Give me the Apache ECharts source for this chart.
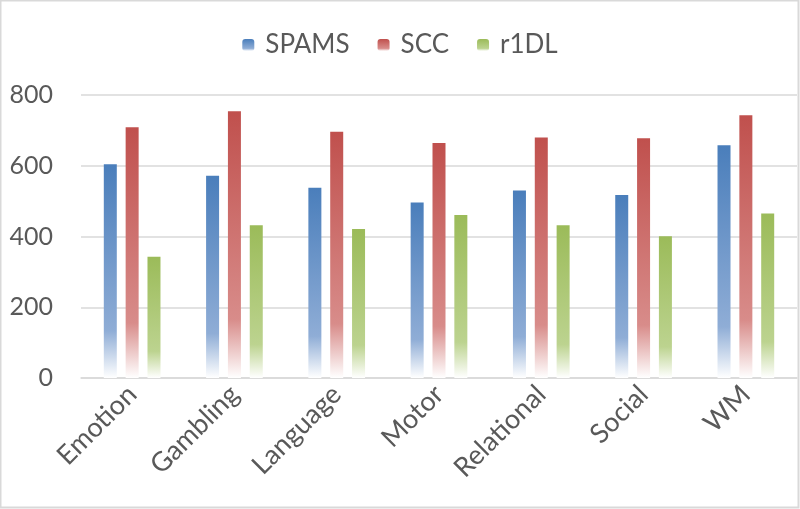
<!DOCTYPE html>
<html>
<head>
<meta charset="utf-8">
<script src="https://cdn.jsdelivr.net/npm/echarts@6/dist/echarts.min.js"></script>
<style>
html,body{margin:0;padding:0;background:#fff;}
#main{width:800px;height:509px;}
</style>
</head>
<body>
<div id="main"></div>
<script>
var categories = ['Emotion','Gambling','Language','Motor','Relational','Social','WM'];
var spams = [604, 572, 538, 496, 530, 517, 658];
var scc = [709, 754, 696, 664, 680, 678, 743];
var r1dl = [343, 432, 421, 461, 432, 401, 465];
var yTicks = [0, 200, 400, 600, 800];

function fade(top, mid, low){
	return new echarts.graphic.LinearGradient(0, 0, 0, 1, [
		{offset: 0, color: top},
		{offset: 0.78, color: mid},
		{offset: 1, color: low}
	]);
}

window.onload=function(){
	var myChart=echarts.init(document.getElementById('main'));
	var txt = '#595959';
	var option = {
		textStyle: {fontFamily: 'Lato'},
		animation: false,
		legend: {
			top: 27,
			left: 'center',
			itemWidth: 12,
			itemHeight: 12,
			itemGap: 28,
			textStyle: {fontSize: 26, color: txt, fontFamily: 'Lato', padding: [0, 0, 0, 6]},
			data: ['SPAMS','SCC','r1DL']
		},
		grid: {left: 81, right: 3, top: 95, bottom: 131},
		xAxis: {
			type: 'category',
			data: categories,
			axisTick: {show: false},
			axisLine: {lineStyle: {color: '#d9d9d9', width: 1.5}},
			axisLabel: {rotate: 45, fontSize: 27, color: txt, margin: 12, interval: 0}
		},
		yAxis: {
			type: 'value',
			min: yTicks[0],
			max: yTicks[yTicks.length - 1],
			interval: 200,
			axisLine: {show: false},
			axisTick: {show: false},
			axisLabel: {fontSize: 25, color: txt, margin: 28},
			splitLine: {lineStyle: {color: '#d9d9d9', width: 1.5}}
		},
		series: [
			{
				name: 'SPAMS', type: 'bar', data: spams,
				barWidth: 13, barGap: '68%',
				itemStyle: {color: fade('#4a7ebb', '#8fadd6', '#ffffff')}
			},
			{
				name: 'SCC', type: 'bar', data: scc,
				barWidth: 13, barGap: '68%',
				itemStyle: {color: fade('#c0504d', '#d88c8a', '#ffffff')}
			},
			{
				name: 'r1DL', type: 'bar', data: r1dl,
				barWidth: 13, barGap: '68%',
				itemStyle: {color: fade('#9bbb59', '#bcd38f', '#ffffff')}
			}
		],
		graphic: [{
			type: 'rect',
			shape: {x: 0.5, y: 0.5, width: 798, height: 507},
			style: {fill: 'none', stroke: '#d9d9d9', lineWidth: 2},
			silent: true
		}]
	};
	myChart.setOption(option);
}
</script>
</body>
</html>
